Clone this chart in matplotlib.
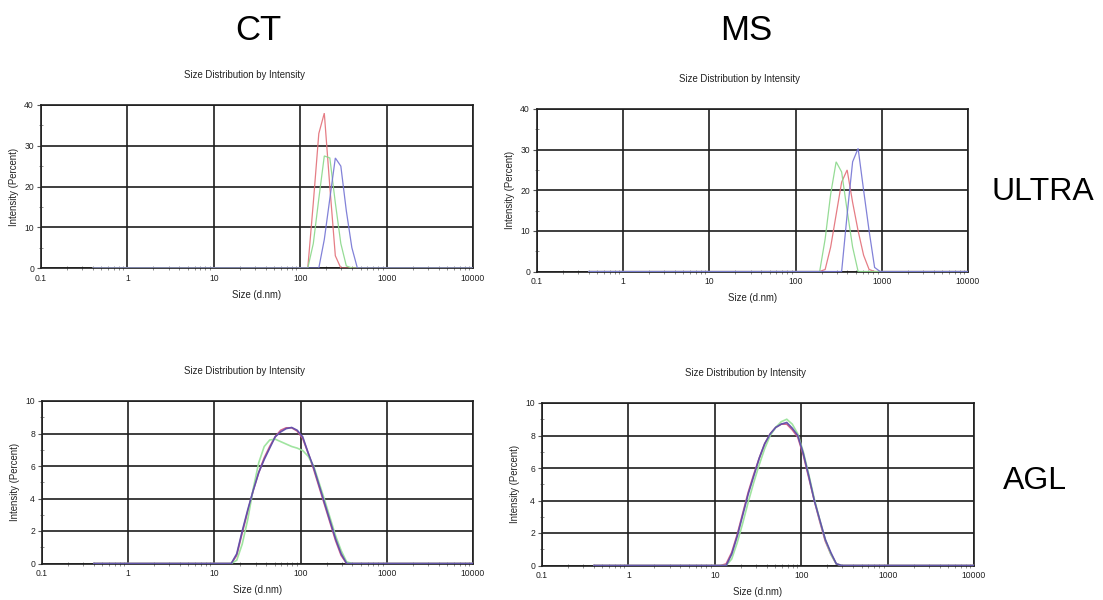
import numpy as np
import matplotlib
matplotlib.use('Agg')
import matplotlib.pyplot as plt
from matplotlib.ticker import FixedLocator, NullFormatter, FixedFormatter

plt.rcParams['font.family'] = ['Liberation Sans', 'DejaVu Sans']

# Instrument size bins (d.nm)
SIZES = [0.4, 0.4632, 0.5365, 0.6213, 0.7195, 0.8332, 0.9649, 1.117, 1.294, 1.499,
         1.736, 2.01, 2.328, 2.696, 3.122, 3.615, 4.187, 4.849, 5.615, 6.503,
         7.531, 8.721, 10.1, 11.7, 13.54, 15.69, 18.17, 21.04, 24.36, 28.21,
         32.67, 37.84, 43.82, 50.75, 58.77, 68.06, 78.82, 91.28, 105.7, 122.4,
         141.8, 164.2, 190.1, 220.2, 255.0, 295.3, 342.0, 396.1, 458.7, 531.2,
         615.1, 712.4, 825.0, 955.4, 1106, 1281, 1484, 1718, 1990, 2305,
         2669, 3091, 3580, 4145, 4801, 5560, 6439, 7456, 8635, 10000]

X_TICKS = [0.1, 1, 10, 100, 1000, 10000]
X_TICK_LABELS = ['0.1', '1', '10', '100', '1000', '10000']
COL_LABELS = ['CT', 'MS']
ROW_LABELS = ['ULTRA', 'AGL']
PANEL_TITLE = 'Size Distribution by Intensity'
X_LABEL = 'Size (d.nm)'
Y_LABEL = 'Intensity (Percent)'

# Non-zero regions of each record: (first bin size, intensities from that bin)
CT_ULTRA_RED = (122.4, [0, 16, 33, 38, 20, 3, 0])
CT_ULTRA_GREEN = (122.4, [0, 6, 17, 27.5, 27, 16, 6, 0.5, 0])
CT_ULTRA_BLUE = (164.2, [0, 7, 17, 27, 25, 14, 5, 0])

MS_ULTRA_RED = (220.2, [0.5, 6, 14, 22, 25, 17, 10, 4, 0.5, 0])
MS_ULTRA_GREEN = (190.1, [0, 8, 19, 27, 24.5, 15, 6, 0])
MS_ULTRA_BLUE = (342.0, [0, 14, 27, 30.3, 20, 10, 1, 0])

CT_AGL_RED = (15.69, [0, 0.5, 1.9, 3.2, 4.5, 5.6, 6.5, 7.2, 7.8, 8.2, 8.35, 8.35,
                      8.15, 7.7, 6.8, 5.8, 4.7, 3.6, 2.5, 1.4, 0.5, 0])
CT_AGL_GREEN = (15.69, [0, 0.2, 1.2, 2.7, 4.6, 6.2, 7.2, 7.6, 7.65, 7.5, 7.35, 7.2,
                        7.1, 6.95, 6.6, 6.0, 4.95, 3.9, 2.8, 1.7, 0.8, 0.1, 0])
CT_AGL_BLUE = (15.69, [0, 0.6, 2.0, 3.3, 4.5, 5.6, 6.4, 7.1, 7.8, 8.1, 8.3, 8.37,
                       8.2, 7.8, 6.8, 5.9, 4.8, 3.7, 2.6, 1.5, 0.6, 0])

MS_AGL_RED = (11.7, [0, 0.1, 0.8, 1.9, 3.2, 4.5, 5.6, 6.6, 7.5, 8.1, 8.5, 8.7,
                     8.7, 8.35, 7.9, 6.8, 5.4, 4.0, 2.7, 1.5, 0.7, 0.1, 0])
MS_AGL_GREEN = (11.7, [0, 0, 0.4, 1.4, 2.6, 3.9, 5.1, 6.2, 7.2, 8.0, 8.5, 8.85,
                       9.0, 8.7, 8.1, 7.0, 5.6, 4.1, 2.8, 1.6, 0.7, 0.1, 0])
MS_AGL_BLUE = (11.7, [0, 0, 0.7, 1.8, 3.1, 4.4, 5.5, 6.6, 7.5, 8.1, 8.5, 8.7,
                      8.8, 8.45, 8.0, 6.9, 5.5, 4.0, 2.8, 1.6, 0.8, 0.1, 0])


def full_record(rec):
    start, vals = rec
    y = np.zeros(len(SIZES))
    i = SIZES.index(start)
    y[i:i + len(vals)] = vals
    return y


W, H = 1103, 600
fig = plt.figure(figsize=(W / 100, H / 100), dpi=100)


def rect(l, t, r, b):
    return [l / W, 1 - b / H, (r - l) / W, (b - t) / H]


panels = [
    (rect(41, 105, 473, 268), 40, 10, [CT_ULTRA_RED, CT_ULTRA_GREEN, CT_ULTRA_BLUE], 0.9),
    (rect(537, 109, 968, 271.5), 40, 10, [MS_ULTRA_RED, MS_ULTRA_GREEN, MS_ULTRA_BLUE], 0.9),
    (rect(42, 401, 473, 563.5), 10, 2, [CT_AGL_RED, CT_AGL_GREEN, CT_AGL_BLUE], 1.2),
    (rect(542, 403, 974, 565.5), 10, 2, [MS_AGL_RED, MS_AGL_GREEN, MS_AGL_BLUE], 1.2),
]

top_colors = ['#e36f78', '#8ad88a', '#7474d4']
bot_colors = ['#d25c86', '#9be39b', '#5e4eab']

minor_x = [m * 10.0 ** e for e in range(-1, 4) for m in range(2, 10)]

for k, (r, ymax, ystep, recs, lw) in enumerate(panels):
    ax = fig.add_axes(r)
    cols = top_colors if k < 2 else bot_colors
    for rec, c in zip(recs, cols):
        ax.plot(SIZES, full_record(rec), color=c, lw=lw,
                alpha=0.9 if k < 2 else 0.95, zorder=3, solid_joinstyle='miter')
    ax.set_xscale('log')
    ax.set_xlim(0.1, 10000)
    ax.set_ylim(0, ymax)
    ax.xaxis.set_major_locator(FixedLocator(X_TICKS))
    ax.xaxis.set_major_formatter(FixedFormatter(X_TICK_LABELS))
    ax.xaxis.set_minor_locator(FixedLocator(minor_x))
    ax.xaxis.set_minor_formatter(NullFormatter())
    yt = np.arange(0, ymax + ystep / 2, ystep)
    ax.yaxis.set_major_locator(FixedLocator(yt))
    ax.yaxis.set_minor_locator(FixedLocator(yt[:-1] + ystep / 2))
    ax.set_yticklabels([f'{v:g}' for v in yt])
    ax.grid(True, which='major', color='#1e1e1e', lw=1.2, zorder=1)
    for s in ax.spines.values():
        s.set_color('#1e1e1e')
        s.set_linewidth(1.2)
    ax.tick_params(axis='both', which='major', labelsize=6.2, length=3,
                   width=0.8, color='#555555', pad=2, labelcolor='#222222')
    ax.tick_params(axis='x', which='major', length=0, pad=4)
    ax.tick_params(axis='both', which='minor', direction='inout', length=3.5,
                   width=0.7, color='#909090')
    ax.set_xlabel(X_LABEL, fontsize=6.9, labelpad=5, color='#222222')
    ax.set_ylabel(Y_LABEL, fontsize=6.9, labelpad=4, color='#222222')
    ax.text(0.47, 1.0 + 30 / (r[3] * H), PANEL_TITLE, transform=ax.transAxes,
            ha='center', va='center', fontsize=6.9, color='#222222')

fig.text(258 / W, 1 - 30 / H, COL_LABELS[0], fontsize=25, ha='center', va='center')
fig.text(746 / W, 1 - 30 / H, COL_LABELS[1], fontsize=25, ha='center', va='center')
fig.text(1043 / W, 1 - 192 / H, ROW_LABELS[0], fontsize=23, ha='center', va='center')
fig.text(1035 / W, 1 - 481 / H, ROW_LABELS[1], fontsize=23, ha='center', va='center')

fig.savefig('out.png', dpi=100, facecolor='white')
